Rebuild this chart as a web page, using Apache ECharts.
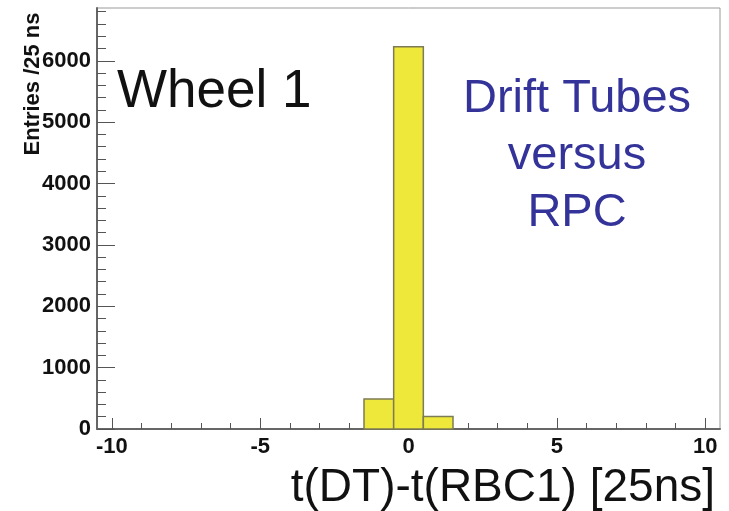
<!DOCTYPE html>
<html>
<head>
<meta charset="utf-8">
<script src="https://cdn.jsdelivr.net/npm/echarts@6/dist/echarts.min.js"></script>
<style>
  html, body { margin: 0; padding: 0; background: #fff; }
  #chart { width: 729px; height: 511px; }
</style>
</head>
<body>
<div id="chart"></div>
<script>
// histogram bins (centre of each 25 ns bin) and entries
var binCenters = [-10, -9, -8, -7, -6, -5, -4, -3, -2, -1, 0, 1, 2, 3, 4, 5, 6, 7, 8, 9, 10];
var entries    = [0, 0, 0, 0, 0, 0, 0, 0, 0, 490, 6230, 205, 0, 0, 0, 0, 0, 0, 0, 0, 0];

// axis ticks
var xMajorTicks = [-10, -5, 0, 5, 10];
var xMinorTicks = [-9, -8, -7, -6, -4, -3, -2, -1, 1, 2, 3, 4, 6, 7, 8, 9];
var yMajorTicks = [0, 1000, 2000, 3000, 4000, 5000, 6000];
var yMinorTicks = [200, 400, 600, 800, 1200, 1400, 1600, 1800, 2200, 2400, 2600, 2800,
  3200, 3400, 3600, 3800, 4200, 4400, 4600, 4800, 5200, 5400, 5600, 5800, 6200, 6400, 6600, 6800];

var xMin = -10.5, xMax = 10.5, yMax = 6860;

var chart = echarts.init(document.getElementById("chart"));

var histData = binCenters.map(function (c, i) {
  return [c - 0.5, c + 0.5, entries[i]];
});

var labelFont = { fontFamily: "Liberation Sans", fontWeight: "bold", fontSize: 22, color: "#111" };
var plain = function (v) { return String(v); };

var option = {
  backgroundColor: "#fff",
  animation: false,
  grid: {
    left: 97, right: 9, top: 8, bottom: 82,
    outerBoundsMode: "none",
    containLabel: false,
    show: true, borderColor: "#999", borderWidth: 1
  },
  xAxis: [
    {
      type: "value", min: xMin, max: xMax,
      name: "t(DT)-t(RBC1) [25ns]",
      nameLocation: "end",
      nameGap: -5,
      nameTextStyle: {
        fontFamily: "Liberation Sans", fontSize: 46, color: "#111",
        align: "right", verticalAlign: "top", padding: [36, 0, 0, 0]
      },
      axisLine: { show: true, onZero: false, lineStyle: { color: "#666", width: 2 } },
      axisTick: { show: true, inside: true, length: 11, customValues: xMajorTicks, lineStyle: { color: "#555" } },
      axisLabel: Object.assign({ margin: 7, customValues: xMajorTicks, formatter: plain }, labelFont),
      splitLine: { show: false }
    },
    {
      type: "value", min: xMin, max: xMax, position: "bottom",
      axisLine: { show: false, onZero: false },
      axisTick: { show: true, inside: true, length: 6, customValues: xMinorTicks, lineStyle: { color: "#555" } },
      axisLabel: { show: false },
      splitLine: { show: false }
    }
  ],
  yAxis: [
    {
      type: "value", min: 0, max: yMax, position: "left",
      axisLine: { show: true, onZero: false, lineStyle: { color: "#666", width: 2 } },
      axisTick: { show: true, inside: true, length: 18, customValues: yMajorTicks, lineStyle: { color: "#555" } },
      axisLabel: Object.assign({ margin: 6, customValues: yMajorTicks, formatter: plain }, labelFont),
      splitLine: { show: false }
    },
    {
      type: "value", min: 0, max: yMax, position: "left",
      axisLine: { show: false, onZero: false },
      axisTick: { show: true, inside: true, length: 9, customValues: yMinorTicks, lineStyle: { color: "#555" } },
      axisLabel: { show: false },
      splitLine: { show: false }
    }
  ],
  series: [
    {
      type: "custom",
      xAxisIndex: 0,
      yAxisIndex: 0,
      data: histData,
      renderItem: function (params, api) {
        var n = api.value(2);
        if (!n) return null;
        var p0 = api.coord([api.value(0), n]);
        var p1 = api.coord([api.value(1), 0]);
        return {
          type: "rect",
          shape: { x: p0[0], y: p0[1], width: p1[0] - p0[0], height: p1[1] - p0[1] },
          style: { fill: "#eee83a", stroke: "#7d7b55", lineWidth: 1.5 }
        };
      }
    }
  ],
  graphic: [
    {
      // y axis title, ROOT style at the top of the axis
      type: "text", x: 33, y: 84, rotation: Math.PI / 2,
      style: {
        text: "Entries /25 ns", fontFamily: "Liberation Sans", fontWeight: "bold",
        fontSize: 22, fill: "#111", align: "center", verticalAlign: "middle"
      }
    },
    {
      type: "text", left: 117, top: 66,
      style: { text: "Wheel 1", fontFamily: "Liberation Sans", fontSize: 53, fill: "#111" }
    },
    {
      type: "text", x: 577, y: 156,
      style: {
        text: "Drift Tubes\nversus\nRPC",
        fontFamily: "Liberation Sans", fontSize: 47, lineHeight: 57,
        fill: "#333399", align: "center", verticalAlign: "middle"
      }
    }
  ]
};

chart.setOption(option);
</script>
</body>
</html>
